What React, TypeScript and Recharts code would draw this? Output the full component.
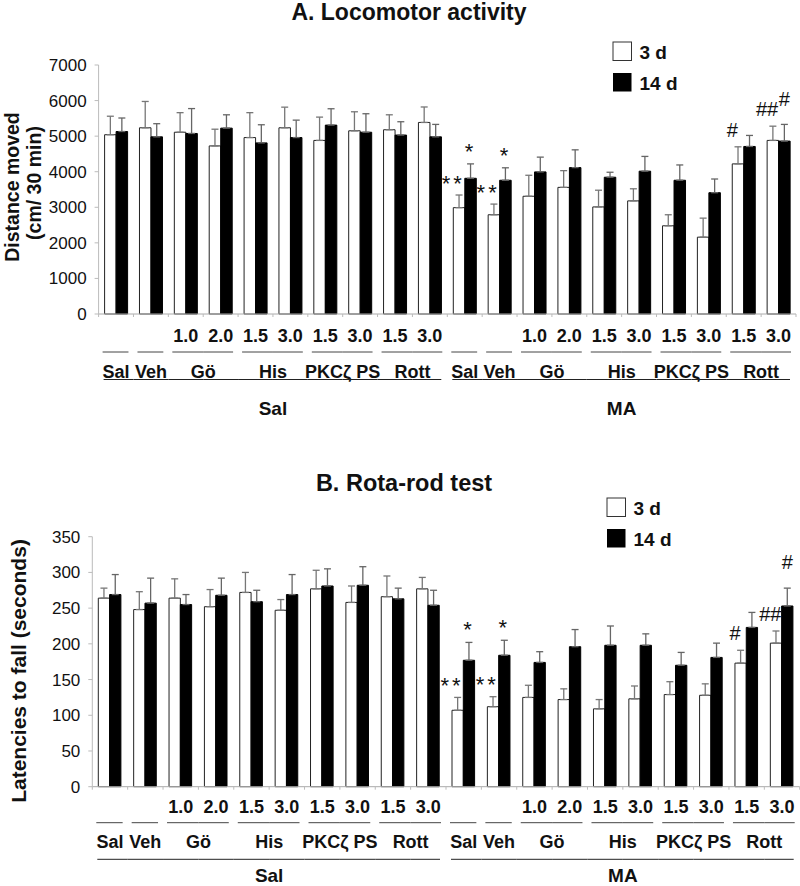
import React from 'react';
import { BarChart, Bar, XAxis, YAxis, ErrorBar, LabelList } from 'recharts';

const FONT = '"Liberation Sans", Arial, Helvetica, sans-serif';

// x-axis grouping (same for both panels)
const pretreat = ['Sal', 'Sal', 'Sal', 'Sal', 'Sal', 'Sal', 'Sal', 'Sal', 'Sal', 'Sal', 'MA', 'MA', 'MA', 'MA', 'MA', 'MA', 'MA', 'MA', 'MA', 'MA'];
const drugs = ['Sal', 'Veh', 'Gö', 'Gö', 'His', 'His', 'PKCζ PS', 'PKCζ PS', 'Rott', 'Rott', 'Sal', 'Veh', 'Gö', 'Gö', 'His', 'His', 'PKCζ PS', 'PKCζ PS', 'Rott', 'Rott'];
const doses = ['', '', '1.0', '2.0', '1.5', '3.0', '1.5', '3.0', '1.5', '3.0', '', '', '1.0', '2.0', '1.5', '3.0', '1.5', '3.0', '1.5', '3.0'];

// A. Locomotor activity (cm / 30 min)
const loco3d = [5040, 5235, 5110, 4725, 4960, 5235, 4880, 5150, 5180, 5385, 2990, 2790, 3310, 3560, 3010, 3180, 2480, 2160, 4220, 4880];
const loco3dErr = [520, 740, 550, 470, 700, 580, 655, 535, 420, 435, 355, 300, 590, 470, 470, 340, 310, 535, 480, 400];
const loco14d = [5130, 4980, 5075, 5225, 4810, 4960, 5310, 5110, 5030, 4980, 3815, 3760, 3995, 4115, 3845, 4015, 3760, 3410, 4710, 4860];
const loco14dErr = [380, 370, 700, 375, 510, 490, 460, 520, 375, 350, 405, 350, 415, 500, 140, 415, 430, 385, 310, 470];
const loco3dMarks = ['', '', '', '', '', '', '', '', '', '', '**', '**', '', '', '', '', '', '', '#', '##'];
const loco14dMarks = ['', '', '', '', '', '', '', '', '', '', '*', '*', '', '', '', '', '', '', '', '#'];
const locoTicks = [0, 1000, 2000, 3000, 4000, 5000, 6000, 7000];

// B. Rota-rod test (seconds)
const rota3d = [264, 248, 264, 252, 272, 247, 277, 258, 266, 277, 107, 112, 125, 122, 109, 123, 129, 128, 173, 201];
const rota3dErr = [14, 25, 27, 24, 28, 15, 26, 23, 29, 16, 18, 14, 17, 15, 13, 18, 18, 16, 18, 17];
const rota14d = [269, 257, 255, 268, 259, 269, 281, 282, 263, 254, 177, 184, 174, 196, 198, 198, 170, 181, 223, 253];
const rota14dErr = [28, 35, 14, 24, 16, 28, 24, 26, 15, 21, 25, 21, 15, 24, 27, 16, 18, 20, 21, 25];
const rota3dMarks = ['', '', '', '', '', '', '', '', '', '', '**', '**', '', '', '', '', '', '', '#', '##'];
const rota14dMarks = ['', '', '', '', '', '', '', '', '', '', '*', '*', '', '', '', '', '', '', '', '#'];
const rotaTicks = [0, 50, 100, 150, 200, 250, 300, 350];

const N = pretreat.length;

function sameDrug(a: number, b: number) {
  return drugs[a] === drugs[b] && pretreat[a] === pretreat[b];
}

const samePre = (a: number, b: number) => pretreat[a] === pretreat[b];

function runLength(i: number, same: (a: number, b: number) => boolean) {
  let n = 1;
  while (i + n < N && same(i, i + n)) n++;
  return n;
}

interface Offs { dose: number; short: number; label: number; long: number; pre: number }

// draws dose row, group brackets and group names under each bar pair
function makeTick(band: number, off: Offs) {
  return (props: any) => {
    const { x, y, payload } = props;
    const i = Number(payload.value);
    const half = band / 2;
    const dStart = i === 0 || !sameDrug(i - 1, i);
    const dEnd = i === N - 1 || !sameDrug(i, i + 1);
    const pStart = i === 0 || !samePre(i - 1, i);
    const pEnd = i === N - 1 || !samePre(i, i + 1);
    const bold = { fontFamily: FONT, fontWeight: 700, fill: '#111' };
    return (
      <g>
        <line x1={x - half} x2={x - half} y1={y} y2={y + 3} stroke="#bbb" />
        {i === N - 1 && <line x1={x + half} x2={x + half} y1={y} y2={y + 3} stroke="#bbb" />}
        {doses[i] && (
          <text x={x} y={y + off.dose} textAnchor="middle" fontSize={18} {...bold}>{doses[i]}</text>
        )}
        <line x1={x - half + (dStart ? 4 : 0)} x2={x + half - (dEnd ? 5 : 0)} y1={y + off.short} y2={y + off.short} stroke="#444" strokeWidth={1} />
        {dStart && (
          <text x={x + (runLength(i, sameDrug) - 1) * half} y={y + off.label} textAnchor="middle" fontSize={18} {...bold}>{drugs[i]}</text>
        )}
        <line x1={x - half + (pStart ? 5 : 0)} x2={x + half - (pEnd ? 6 : 0)} y1={y + off.long} y2={y + off.long} stroke="#222" strokeWidth={1} />
        {pStart && (
          <text x={x + (runLength(i, samePre) - 1) * half} y={y + off.pre} textAnchor="middle" fontSize={19} {...bold}>{pretreat[i]}</text>
        )}
      </g>
    );
  };
}

// significance marks sit above the error-bar cap
function makeMark(errs: number[], pxPerUnit: number, is3d: boolean) {
  return (props: any) => {
    const { value, index } = props;
    if (!value) return null;
    const vb = props.viewBox || props;
    const bx = vb.x ?? props.x;
    const by = vb.y ?? props.y;
    const bw = vb.width ?? props.width;
    const capY = by - errs[index] * pxPerUnit;
    const cx = is3d ? bx : bx + bw / 2;
    const star = String(value).includes('*');
    const fs = star ? 22 : 20;
    const lift = is3d ? 17 : star ? 18 : 26;
    const centerY = capY - lift;
    const base = star ? centerY + 0.58 * fs : centerY + 0.36 * fs;
    return (
      <text x={cx} y={base} textAnchor="middle" fontSize={fs} fontFamily={FONT} fill="#111" letterSpacing={star ? 3 : 0}>
        {value}
      </text>
    );
  };
}

interface PanelProps {
  top: number;
  height: number;
  marginTop: number;
  yWidth: number;
  right: number;
  xHeight: number;
  yMax: number;
  ticks: number[];
  m3: number[];
  e3: number[];
  m14: number[];
  e14: number[];
  k3: string[];
  k14: string[];
  barSize: number;
  offs: Offs;
}

function Panel(p: PanelProps) {
  const W = 800;
  const plotW = W - p.yWidth - p.right;
  const plotH = p.height - p.marginTop - p.xHeight;
  const band = plotW / N;
  const pxPerUnit = plotH / p.yMax;
  const data = pretreat.map((_, i) => ({
    key: i,
    d3: p.m3[i],
    d3e: [0, p.e3[i]],
    d14: p.m14[i],
    d14e: [0, p.e14[i]],
    k3: p.k3[i],
    k14: p.k14[i],
  }));
  return (
    <div style={{ position: 'absolute', left: 0, top: p.top }}>
      <BarChart
        width={W}
        height={p.height}
        data={data}
        margin={{ top: p.marginTop, right: p.right, left: 0, bottom: 0 }}
        barGap={0}
        barSize={p.barSize}
      >
        <XAxis
          dataKey="key"
          interval={0}
          tickSize={0}
          tickMargin={0}
          height={p.xHeight}
          axisLine={{ stroke: '#aaa' }}
          tickLine={false}
          tick={makeTick(band, p.offs)}
        />
        <YAxis
          domain={[0, p.yMax]}
          ticks={p.ticks}
          interval={0}
          width={p.yWidth}
          axisLine={{ stroke: '#bbb' }}
          tickLine={{ stroke: '#bbb' }}
          tickSize={4}
          tickMargin={8}
          tick={{ fontSize: 17, fill: '#111', fontFamily: FONT }}
        />
        <Bar dataKey="d3" fill="#fff" stroke="#222" strokeWidth={1} isAnimationActive={false}>
          <ErrorBar dataKey="d3e" width={3.5} stroke="#777" strokeWidth={1.3} />
          <LabelList dataKey="k3" content={makeMark(p.e3, pxPerUnit, true)} />
        </Bar>
        <Bar dataKey="d14" fill="#000" stroke="#000" strokeWidth={1} isAnimationActive={false}>
          <ErrorBar dataKey="d14e" width={3.5} stroke="#666" strokeWidth={1.3} />
          <LabelList dataKey="k14" content={makeMark(p.e14, pxPerUnit, false)} />
        </Bar>
      </BarChart>
    </div>
  );
}

function LegendBox({ x, y, gap, size }: { x: number; y: number; gap: number; size: number }) {
  return (
    <g fontFamily={FONT} fontWeight={700} fontSize={19} fill="#111">
      <rect x={x} y={y} width={size} height={size} fill="#fff" stroke="#333" strokeWidth={1} />
      <text x={x + size + 8} y={y + size - 2}>3 d</text>
      <rect x={x} y={y + gap} width={size} height={size} fill="#000" />
      <text x={x + size + 8} y={y + gap + size - 2}>14 d</text>
    </g>
  );
}

export default function App() {
  return (
    <div style={{ position: 'absolute', left: 0, top: 0, width: 800, height: 886, background: '#fff', fontFamily: FONT }}>
      <Panel
        top={0}
        height={425}
        marginTop={65}
        yWidth={98.6}
        right={4}
        xHeight={111}
        yMax={7000}
        ticks={locoTicks}
        m3={loco3d}
        e3={loco3dErr}
        m14={loco14d}
        e14={loco14dErr}
        k3={loco3dMarks}
        k14={loco14dMarks}
        barSize={11.5}
        offs={{ dose: 28, short: 38, label: 63.5, long: 65.5, pre: 101 }}
      />
      <Panel
        top={440}
        height={446}
        marginTop={96.7}
        yWidth={92.3}
        right={0.3}
        xHeight={99.3}
        yMax={350}
        ticks={rotaTicks}
        m3={rota3d}
        e3={rota3dErr}
        m14={rota14d}
        e14={rota14dErr}
        k3={rota3dMarks}
        k14={rota14dMarks}
        barSize={11.3}
        offs={{ dose: 26, short: 36, label: 61.5, long: 72.6, pre: 95.5 }}
      />
      <svg width={800} height={886} style={{ position: 'absolute', left: 0, top: 0, pointerEvents: 'none' }}>
        <text x={409} y={20} textAnchor="middle" fontFamily={FONT} fontWeight={700} fontSize={23} fill="#111">A. Locomotor activity</text>
        <text x={404} y={490.7} textAnchor="middle" fontFamily={FONT} fontWeight={700} fontSize={23.5} fill="#111">B. Rota-rod test</text>
        <LegendBox x={613} y={42} gap={31} size={18.5} />
        <LegendBox x={607} y={498} gap={31} size={18.5} />
        <g fontFamily={FONT} fontWeight={700} fontSize={19.5} fill="#111" textAnchor="middle">
          <text transform="translate(18.5,187) rotate(-90)">Distance moved</text>
          <text transform="translate(41,183) rotate(-90)">(cm/ 30 min)</text>
        </g>
        <text transform="translate(25.5,671) rotate(-90)" fontFamily={FONT} fontWeight={700} fontSize={21} fill="#111" textAnchor="middle">
          Latencies to fall (seconds)
        </text>
      </svg>
    </div>
  );
}
